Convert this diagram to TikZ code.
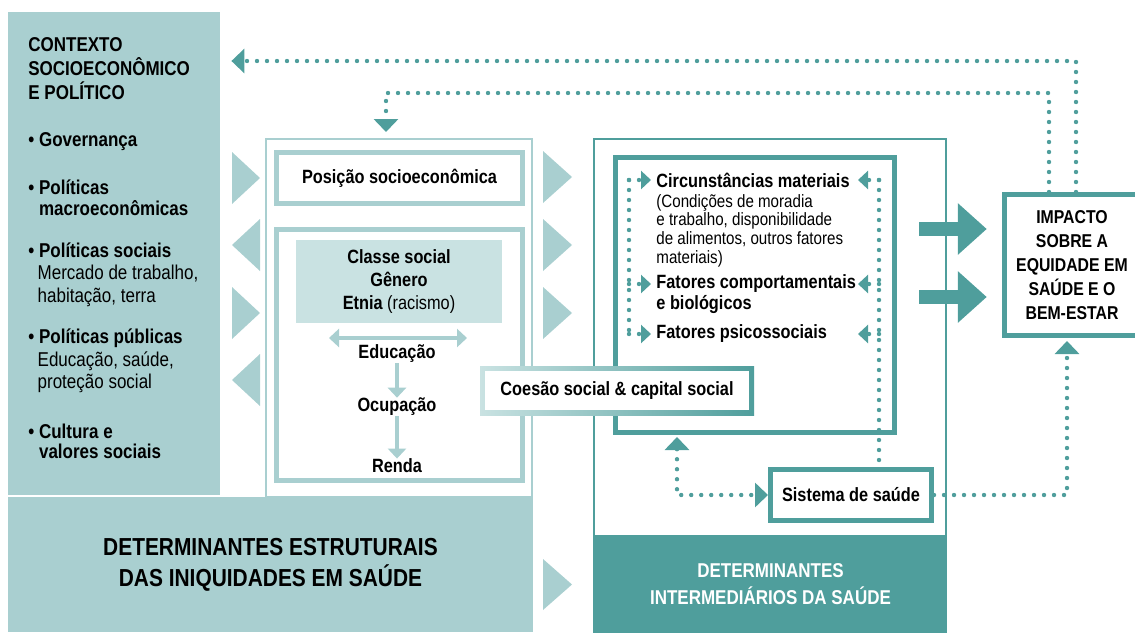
\documentclass[tikz,border=0pt]{standalone}
\usepackage{fontspec}
\setmainfont{Liberation Sans}[FakeStretch=0.85]
\usetikzlibrary{arrows.meta,positioning}

\definecolor{tealL}{HTML}{A9CFD0}
\definecolor{tealXL}{HTML}{C9E2E2}
\definecolor{tealD}{HTML}{4F9E9C}

\tikzset{
  txt/.style={inner sep=0pt, font=\fontsize{9.6}{11}\selectfont\bfseries, align=center},
  ctxtxt/.style={inner sep=0pt, anchor=west, align=left, font=\fontsize{10}{11.2}\selectfont},
  lightbox/.style={draw=tealL, line width=2.5pt, fill=white, inner sep=0pt},
  darkbox/.style={draw=tealD, line width=2.5pt, fill=white, inner sep=0pt},
  dotline/.style={draw=tealD, line width=2.2pt, line cap=round, dash pattern=on 0pt off 5pt},
  dotarrow/.style={dotline, -{Triangle[length=6.5pt,width=12pt]}},
  dotsmall/.style={dotline, -{Triangle[length=5pt,width=9pt]}},
  bigarrow/.style={draw=tealD, line width=7pt, -{Triangle[length=14.5pt,width=25pt]}},
  lightarrow/.style={draw=tealL, line width=1.8pt},
}

\begin{document}
\begin{tikzpicture}[x=0.5pt,y=-0.5pt]
  \useasboundingbox (0,0) rectangle (1135,632);

  % contexto (left panel)
  \node[fill=tealL, minimum width=106pt, minimum height=241.5pt, inner sep=0pt] (ctx) at (114,253.5) {};
  \node[ctxtxt, font=\fontsize{10}{12}\selectfont\bfseries] (ctxtitle) at (28,69) {CONTEXTO\\SOCIOECONÔMICO\\E POLÍTICO};
  \node[ctxtxt, font=\fontsize{10}{11}\selectfont\bfseries] (gov) at (28,142) {\textbullet\ Governança};
  \node[ctxtxt, font=\fontsize{10}{10.5}\selectfont\bfseries] (macro) at (28,197.5) {\textbullet\ Políticas\\\phantom{\textbullet\ }macroeconômicas};
  \node[ctxtxt] (psoc) at (28,274.5) {\textbf{\textbullet\ Políticas sociais}\\\phantom{\textbullet}\,Mercado de trabalho,\\\phantom{\textbullet}\,habitação, terra};
  \node[ctxtxt] (ppub) at (28,361) {\textbf{\textbullet\ Políticas públicas}\\\phantom{\textbullet}\,Educação, saúde,\\\phantom{\textbullet}\,proteção social};
  \node[ctxtxt, font=\fontsize{10}{10}\selectfont\bfseries] (cult) at (28,441) {\textbullet\ Cultura e\\\phantom{\textbullet\ }valores sociais};

  % determinantes estruturais
  \node[draw=tealL, line width=1pt, minimum width=133pt, minimum height=179pt, inner sep=0pt] (struct) at (399,318) {};
  \node[lightbox, minimum width=123pt, minimum height=25.5pt] (pos) at (399.5,178) {};
  \node[txt] (postxt) at (pos.center) {Posição socioeconômica};
  \node[lightbox, minimum width=123pt, minimum height=125.5pt] (inner) at (399.5,355) {};
  \node[fill=tealXL, minimum width=103pt, minimum height=41.5pt, inner sep=0pt, txt, font=\fontsize{9.6}{11.6}\selectfont\bfseries] (classe) at (399,281.5)
    {Classe social\\Gênero\\Etnia \mdseries(racismo)};
  \node[txt] (edu) at (397,354) {Educação};
  \node[txt] (ocu) at (397,407) {Ocupação};
  \node[txt] (renda) at (397,466) {Renda};
  \draw[lightarrow, {Triangle[length=5pt,width=9pt]}-{Triangle[length=5pt,width=9pt]}]
    (329,338) -- (467,338);
  \draw[lightarrow, -{Triangle[length=5pt,width=9pt]}] (edu) -- (ocu);
  \draw[lightarrow, -{Triangle[length=5pt,width=9pt]}] (ocu) -- (renda);

  \node[fill=tealL, minimum width=262.5pt, minimum height=67.5pt, inner sep=0pt, txt, font=\fontsize{12.3}{15.5}\selectfont\bfseries] (bannerS) at (270.5,564.5)
    {DETERMINANTES ESTRUTURAIS\\DAS INIQUIDADES EM SAÚDE};

  % big light triangles
  \foreach \y/\d in {178/1,245/-1,313/1,380/-1}
    \fill[tealL] (246-14*\d,\y-26) -- (246+14*\d,\y) -- (246-14*\d,\y+26) -- cycle;
  \foreach \y in {177,245,313}
    \fill[tealL] (543,\y-26) -- (572,\y) -- (543,\y+26) -- cycle;
  \fill[tealL] (543,559) -- (572,584.5) -- (543,610) -- cycle;

  % determinantes intermediarios
  \node[draw=tealD, line width=1pt, minimum width=176pt, minimum height=246.5pt, inner sep=0pt] (inter) at (770,385.5) {};
  \node[fill=tealD, minimum width=176.5pt, minimum height=49.5pt, inner sep=0pt, txt, text=white, font=\fontsize{10}{13.5}\selectfont\bfseries] (bannerI) at (770.5,584)
    {DETERMINANTES\\INTERMEDIÁRIOS DA SAÚDE};
  \node[darkbox, minimum width=139.5pt, minimum height=137.5pt] (mat) at (755,295) {};

  \node[txt, anchor=west] (circ) at (656,180) {Circunstâncias materiais};
  \node[txt, anchor=north west, align=left, font=\fontsize{8.9}{9.3}\selectfont] (circsub) at (656,194)
    {(Condições de moradia\\e trabalho, disponibilidade\\de alimentos, outros fatores\\materiais)};
  \node[txt, anchor=west, align=left, font=\fontsize{9.6}{10.5}\selectfont\bfseries] (fcomp) at (656,294.5) {Fatores comportamentais\\e biológicos};
  \node[txt, anchor=west] (fpsi) at (656,334) {Fatores psicossociais};

  \shade[left color=tealXL, right color=tealD] (480,366) rectangle (754,415);
  \node[fill=white, minimum width=132pt, minimum height=19.5pt, inner sep=0pt, txt] (coesao) at (617,390.5) {Coesão social \& capital social};

  \node[darkbox, minimum width=80.5pt, minimum height=25.5pt, txt] (saude) at (851,495) {Sistema de saúde};

  % impacto
  \node[darkbox, minimum width=67.75pt, minimum height=70.5pt, txt, font=\fontsize{9.3}{12}\selectfont\bfseries] (impact) at (1072,265)
    {IMPACTO\\SOBRE A\\EQUIDADE EM\\SAÚDE E O\\BEM-ESTAR};

  % big arrows to impact
  \coordinate (a1) at (919,229);
  \coordinate (a2) at (919,297);
  \draw[bigarrow, shorten >=7.5pt] (a1) -- (impact.west |- a1);
  \draw[bigarrow, shorten >=7.5pt] (a2) -- (impact.west |- a2);

  % dotted feedback
  \draw[dotarrow, shorten >=5.5pt] (impact.north -| 1076,0) |- (ctx.east |- 0,61);
  \draw[dotarrow, shorten >=3pt] (impact.north -| 1049,0) |- (386,93) -- (struct.north -| 386,0);

  \coordinate (ltop) at (629,180);
  \coordinate (rtop) at (879,180);
  \draw[dotline] (ltop) -- (fpsi.west -| ltop);
  \draw[dotline] (rtop) -- (saude.north -| rtop);
  \draw[dotsmall, shorten >=2.5pt] (ltop) -- (circ.west);
  \draw[dotsmall, shorten >=2.5pt] ([yshift=5.25pt]fcomp.west -| ltop) -- ([yshift=5.25pt]fcomp.west);
  \draw[dotsmall, shorten >=2.5pt] (fpsi.west -| ltop) -- (fpsi.west);
  \foreach \y in {180,284,334}
    \draw[dotsmall] (879,\y) -- (858,\y);

  \draw[dotline, {Triangle[length=6.5pt,width=12pt]}-{Triangle[length=6.5pt,width=12pt]}, shorten <=1pt]
    (mat.south -| 677,0) |- (saude.west);
  \draw[dotarrow, shorten >=1.5pt] (saude.east) -| ([xshift=-2.5pt]impact.south);
\end{tikzpicture}
\end{document}
